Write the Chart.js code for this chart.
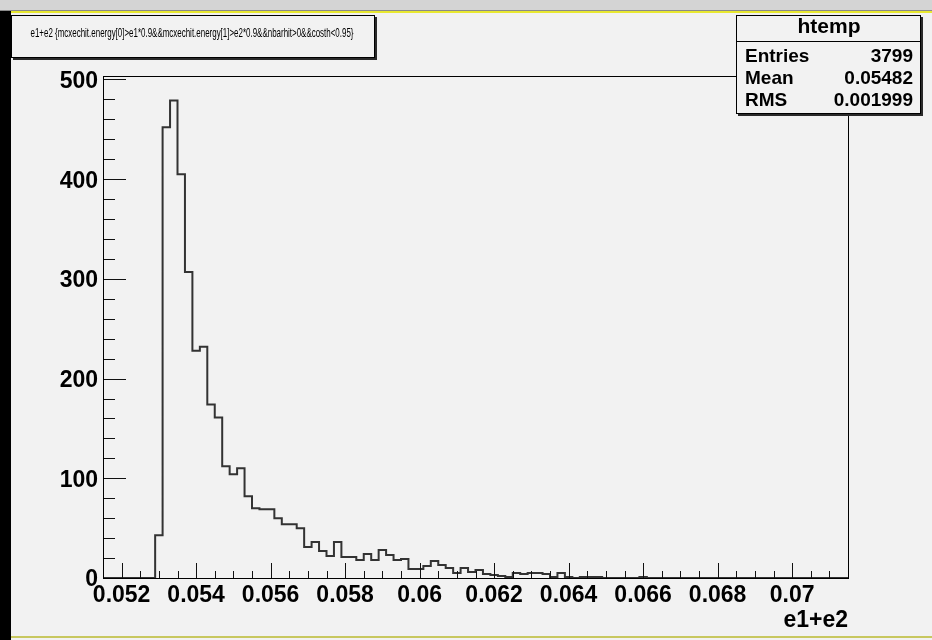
<!DOCTYPE html>
<html>
<head>
<meta charset="utf-8">
<script src="https://cdn.jsdelivr.net/npm/chart.js@4.4.0/dist/chart.umd.min.js"></script>
<style>
  html, body { margin: 0; padding: 0; background: #f2f2f2; }
  canvas { display: block; }
</style>
</head>
<body>
<canvas id="histo" width="932" height="640"></canvas>
<script>
// htemp: 100 bins between xMin and xMax
const xMin = 0.0515;
const xMax = 0.0715;
const counts = [
  0, 0, 0, 0, 0, 0, 0, 43, 452, 479,
  405, 307, 228, 232, 174, 161, 112, 104, 110, 82,
  70, 69, 69, 60, 54, 54, 50, 31, 36, 27,
  22, 36, 21, 21, 18, 24, 18, 28, 23, 18,
  19, 9, 9, 12, 17, 13, 10, 5, 10, 6,
  8, 4, 3, 2, 1, 5, 4, 5, 5, 4,
  1, 5, 1, 0, 1, 1, 1, 0, 0, 0,
  0, 0, 1, 0, 0, 0, 0, 0, 0, 0,
  0, 0, 0, 0, 0, 0, 0, 0, 0, 0,
  0, 0, 0, 0, 0, 0, 0, 0, 0, 0
];
const xTicks = [0.052, 0.054, 0.056, 0.058, 0.060, 0.062, 0.064, 0.066, 0.068, 0.070];
const yTicks = [0, 100, 200, 300, 400, 500];
const xMinorStep = 0.0005;
const yMinorStep = 20;
const yMax = 503.5;

const titleText = 'e1+e2 {mcxechit.energy[0]>e1*0.9&&mcxechit.energy[1]>e2*0.9&&nbarhit>0&&costh<0.95}';
const statsName = 'htemp';
const statsRows = [['Entries', '3799'], ['Mean', '0.05482'], ['RMS', '0.001999']];

const BG = '#f2f2f2';
const FONT = '"Liberation Sans", Arial, sans-serif';

const binW = (xMax - xMin) / counts.length;
const points = counts.map((c, i) => ({ x: xMin + i * binW, y: c }));
points.push({ x: xMax, y: 0 });

function shadowBox(ctx, x, y, w, h) {
  ctx.fillStyle = '#2a2a2a';
  ctx.fillRect(x + 2, y + 2, w, h);
  ctx.fillStyle = BG;
  ctx.fillRect(x, y, w, h);
  ctx.strokeStyle = '#000';
  ctx.lineWidth = 1;
  ctx.strokeRect(x + 0.5, y + 0.5, w - 1, h - 1);
}

const rootPad = {
  id: 'rootPad',
  beforeDraw(chart) {
    const ctx = chart.ctx;
    ctx.save();
    ctx.fillStyle = BG;
    ctx.fillRect(0, 0, chart.width, chart.height);
    // window border like the ROOT canvas
    ctx.fillStyle = '#d4d4d4';
    ctx.fillRect(0, 0, chart.width, 10);
    ctx.fillStyle = '#8a8a8a';
    ctx.fillRect(0, 10, chart.width, 1);
    ctx.fillStyle = '#e8e830';
    ctx.fillRect(0, 11, chart.width, 2);
    ctx.fillStyle = '#c8c860';
    ctx.fillRect(0, 636, chart.width, 2);
    ctx.fillStyle = '#000';
    ctx.fillRect(0, 11, 11, chart.height - 11);
    ctx.restore();
  },
  afterDatasetsDraw(chart) {
    const ctx = chart.ctx;
    const a = chart.chartArea;
    const xs = chart.scales.x;
    const ys = chart.scales.y;
    ctx.save();
    ctx.strokeStyle = '#111';
    ctx.lineWidth = 1;
    ctx.beginPath();
    // y ticks, drawn inside the frame
    for (let v = 0; v <= yMax; v += yMinorStep) {
      const py = Math.round(ys.getPixelForValue(v)) + 0.5;
      const len = yTicks.includes(v) ? 23 : 12;
      ctx.moveTo(a.left, py);
      ctx.lineTo(a.left + len, py);
    }
    // x ticks
    for (let k = 0; xMin + k * xMinorStep <= xMax + 1e-9; k++) {
      const v = xMin + k * xMinorStep;
      const px = Math.round(xs.getPixelForValue(v)) + 0.5;
      const major = xTicks.some(t => Math.abs(t - v) < 1e-7);
      ctx.moveTo(px, a.bottom);
      ctx.lineTo(px, a.bottom - (major ? 15 : 7));
    }
    ctx.stroke();
    ctx.strokeStyle = '#000';
    ctx.strokeRect(a.left + 0.5, a.top + 0.5, a.right - a.left, a.bottom - a.top);
    ctx.restore();
  },
  afterDraw(chart) {
    const ctx = chart.ctx;
    ctx.save();
    // title box
    shadowBox(ctx, 11, 15, 364, 43);
    ctx.fillStyle = '#000';
    ctx.font = '13px "Liberation Sans Narrow", ' + FONT;
    ctx.textAlign = 'center';
    ctx.textBaseline = 'middle';
    ctx.fillText(titleText, 192, 33, 323);
    // stats box
    shadowBox(ctx, 736, 15, 185, 99);
    ctx.beginPath();
    ctx.moveTo(736, 41.5);
    ctx.lineTo(921, 41.5);
    ctx.stroke();
    ctx.fillStyle = '#000';
    ctx.textAlign = 'center';
    ctx.textBaseline = 'alphabetic';
    ctx.font = 'bold 21px ' + FONT;
    ctx.fillText(statsName, 829, 33);
    ctx.font = 'bold 19px ' + FONT;
    statsRows.forEach((r, i) => {
      const by = 62 + i * 22;
      ctx.textAlign = 'left';
      ctx.fillText(r[0], 745, by);
      ctx.textAlign = 'right';
      ctx.fillText(r[1], 913, by);
    });
    ctx.restore();
  }
};

new Chart(document.getElementById('histo'), {
  type: 'line',
  data: {
    datasets: [{
      data: points,
      stepped: 'before',
      borderColor: '#333',
      borderWidth: 2,
      pointRadius: 0,
      fill: false
    }]
  },
  options: {
    responsive: false,
    animation: false,
    layout: { padding: { left: 0, top: 76, right: 84, bottom: 0 } },
    plugins: {
      legend: { display: false },
      tooltip: { enabled: false }
    },
    scales: {
      x: {
        type: 'linear',
        min: xMin,
        max: xMax,
        grid: { display: false },
        border: { display: false },
        afterBuildTicks: s => { s.ticks = xTicks.map(v => ({ value: v })); },
        afterFit: s => { s.height = 62; },
        ticks: {
          autoSkip: false,
          maxRotation: 0,
          padding: -4,
          color: '#000',
          font: { family: FONT, weight: 'bold', size: 23 },
          callback: v => String(+v.toFixed(3))
        },
        title: {
          display: true,
          text: 'e1+e2',
          align: 'end',
          color: '#000',
          font: { family: FONT, weight: 'bold', size: 23 },
          padding: { top: 0, bottom: 6 }
        }
      },
      y: {
        min: 0,
        max: yMax,
        grid: { display: false },
        border: { display: false },
        afterBuildTicks: s => { s.ticks = yTicks.map(v => ({ value: v })); },
        afterFit: s => { s.width = 103; },
        ticks: {
          padding: -3,
          labelOffset: 2,
          color: '#000',
          font: { family: FONT, weight: 'bold', size: 23 }
        }
      }
    }
  },
  plugins: [rootPad]
});
</script>
</body>
</html>
